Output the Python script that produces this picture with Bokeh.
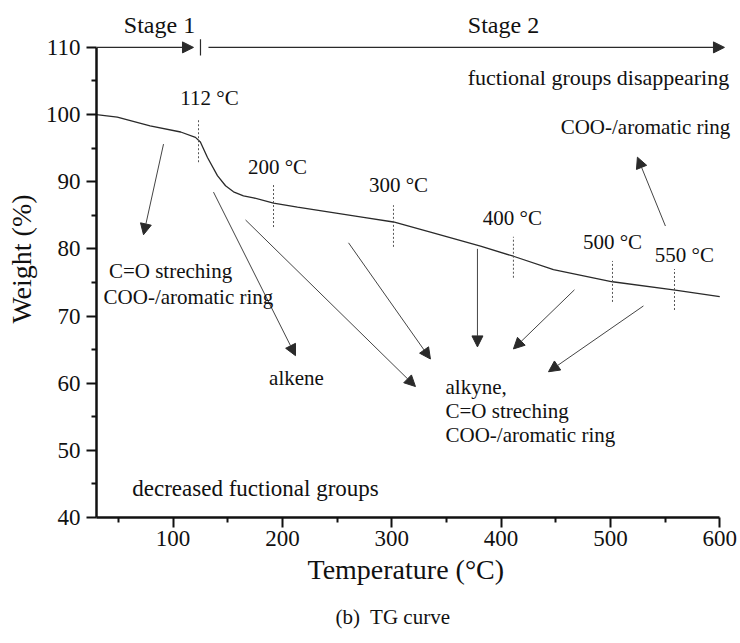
from bokeh.plotting import figure
from bokeh.models import Range1d, Label, Arrow, NormalHead, FixedTicker, Title
from bokeh.embed import file_html
from bokeh.resources import INLINE

# ---- data ----
temperature = [30, 49, 79, 107, 120.5, 125, 131.5, 140.6, 148, 155.3, 164.4, 173.6,
               191.9, 213.8, 274.2, 301.6, 335.4, 381.2, 411.3, 447.9, 501.9,
               557.7, 600]
weight = [100.0, 99.6, 98.3, 97.4, 96.6, 95.9, 93.6, 90.9, 89.4, 88.5, 87.9, 87.6,
          86.8, 86.2, 84.7, 84.0, 82.5, 80.4, 78.9, 76.9, 75.1, 73.9, 72.9]

x_major_ticks = [100, 200, 300, 400, 500, 600]
x_minor_ticks = [50, 150, 250, 350, 450, 550]
y_major_ticks = [40, 50, 60, 70, 80, 90, 100, 110]
y_minor_ticks = [45, 55, 65, 75, 85, 95, 105]

# marked temperatures (dotted markers on the curve)
marker_names = ["112", "200", "300", "400", "500", "550"]
marker_x = [123.3, 191.9, 301.6, 411.3, 501.9, 558.6]
marker_top = [99.45, 89.5, 86.5, 81.8, 78.2, 77.0]
marker_bottom = [92.9, 83.25, 80.3, 75.7, 72.1, 70.9]
marker_label_x = [133.3, 195.5, 306.2, 410.4, 501.9, 567.7]
marker_label_y = [102.4, 92.2, 89.5, 84.6, 81.0, 79.1]

# annotation arrows (start x, start y, end x, end y)
arrow_x0 = [91.3, 137.0, 166.3, 260.5, 378.4, 467.1, 530.2, 550.3]
arrow_y0 = [95.6, 88.45, 84.3, 80.9, 80.0, 73.9, 71.5, 83.4]
arrow_x1 = [73.0, 212.0, 321.7, 335.4, 378.4, 411.3, 443.4, 524.7]
arrow_y1 = [82.1, 64.1, 59.5, 63.6, 65.4, 65.1, 61.7, 93.65]

FONT = "Liberation Serif"
INK = "#111111"
LINE = "#2a2a2a"

p = figure(width=740, height=643,
           x_range=Range1d(30, 614.4), y_range=Range1d(40, 116.98),
           output_backend="svg", toolbar_location=None,
           min_border_left=96, min_border_right=5,
           min_border_top=0, min_border_bottom=125)
p.grid.visible = False
p.outline_line_color = None
p.background_fill_color = "white"
p.border_fill_color = "white"

# axes
for ax in (p.xaxis[0], p.yaxis[0]):
    ax.axis_line_width = 2.5
    ax.axis_line_color = INK
    ax.major_tick_line_width = 2
    ax.minor_tick_line_width = 2
    ax.major_tick_line_color = INK
    ax.minor_tick_line_color = INK
    ax.major_tick_in = 0
    ax.minor_tick_in = 0
    ax.major_tick_out = 10
    ax.minor_tick_out = 5
    ax.major_label_text_font = FONT
    ax.major_label_text_font_size = "23px"
    ax.major_label_text_color = INK

p.xaxis.ticker = FixedTicker(ticks=x_major_ticks, minor_ticks=x_minor_ticks)
p.yaxis.ticker = FixedTicker(ticks=y_major_ticks, minor_ticks=y_minor_ticks)
p.xaxis.bounds = (30, 600)
p.yaxis.bounds = (40, 110)
p.xaxis.major_label_standoff = 3
p.yaxis.major_label_standoff = 6

p.yaxis.axis_label = "Weight (%)"
p.yaxis.axis_label_text_font = FONT
p.yaxis.axis_label_text_font_size = "28px"
p.yaxis.axis_label_text_font_style = "normal"
p.yaxis.axis_label_text_color = INK
p.yaxis.axis_label_standoff = 6

# x-axis title and caption below the axis
p.add_layout(Title(text="Temperature (\u00b0C)", align="left", offset=211,
                   text_font=FONT, text_font_size="28px", text_font_style="normal",
                   text_color=INK, standoff=6), "below")
p.add_layout(Title(text="(b)\u00a0 TG curve", align="left", offset=239,
                   text_font=FONT, text_font_size="21px", text_font_style="normal",
                   text_color=INK, standoff=30), "below")

# curve
p.line(temperature, weight, line_color=LINE, line_width=1.3)

# dotted temperature markers
p.segment(x0=marker_x, y0=marker_bottom, x1=marker_x, y1=marker_top,
          line_color="#555555", line_width=1, line_dash="2 2")
for name, lx, ly in zip(marker_names, marker_label_x, marker_label_y):
    p.add_layout(Label(x=lx, y=ly, text=f"{name} \u00b0C", text_font=FONT,
                       text_font_size="21px", text_color=INK,
                       text_align="center", text_baseline="middle"))

# annotation arrows
for x0, y0, x1, y1 in zip(arrow_x0, arrow_y0, arrow_x1, arrow_y1):
    p.add_layout(Arrow(end=NormalHead(size=11, fill_color=LINE, line_color=LINE),
                       x_start=x0, y_start=y0, x_end=x1, y_end=y1,
                       line_color="#444444", line_width=1))

# stage arrows along the top
p.add_layout(Arrow(end=NormalHead(size=11, fill_color=LINE, line_color=LINE),
                   x_start=30, y_start=110, x_end=118.7, y_end=110,
                   line_color=LINE, line_width=1.2))
p.add_layout(Arrow(end=NormalHead(size=11, fill_color=LINE, line_color=LINE),
                   x_start=132.4, y_start=110, x_end=604.3, y_end=110,
                   line_color=LINE, line_width=1.2))
p.segment(x0=[125.1], y0=[108.8], x1=[125.1], y1=[111.2],
          line_color=LINE, line_width=1.2)

texts = [
    ("Stage 1", 87.6, 113.3, "24px", "center"),
    ("Stage 2", 402.2, 113.3, "24px", "center"),
    ("fuctional groups disappearing", 489.1, 105.5, "22px", "center"),
    ("COO-/aromatic ring", 532.1, 98.1, "21px", "center"),
    ("C=O streching", 97.7, 76.7, "21px", "center"),
    ("COO-/aromatic ring", 114.1, 72.9, "21px", "center"),
    ("alkene", 212.9, 60.7, "21px", "center"),
    ("alkyne,", 349.2, 59.5, "21px", "left"),
    ("C=O streching", 349.2, 55.8, "21px", "left"),
    ("COO-/aromatic ring", 349.2, 52.35, "21px", "left"),
    ("decreased fuctional groups", 175.4, 44.3, "23px", "center"),
]
for t, tx, ty, fs, al in texts:
    p.add_layout(Label(x=tx, y=ty, text=t, text_font=FONT, text_font_size=fs,
                       text_color=INK, text_align=al, text_baseline="middle"))

open("out.html", "w").write(file_html(p, INLINE))
